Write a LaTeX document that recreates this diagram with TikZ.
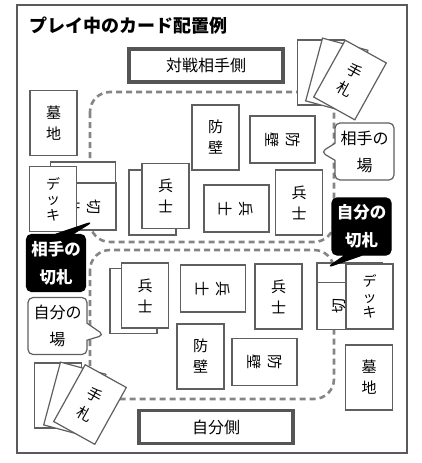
\documentclass[tikz,border=0pt]{standalone}
\usepackage{fontspec}
\setmainfont{Noto Sans CJK JP}
\usetikzlibrary{shapes.callouts}

\begin{document}
\begin{tikzpicture}[x=1pt,y=-1pt,
  card/.style={draw=cardGray, fill=white, line width=1.2pt, inner sep=0pt,
    minimum width=47, minimum height=65, align=center,
    font=\fontsize{15}{21}\selectfont},
  deckcard/.style={card, font=\fontsize{14}{15.5}\selectfont},
  sidebox/.style={draw=boxGray, fill=white, line width=3.6pt, inner sep=0pt,
    minimum width=154, minimum height=33, font=\fontsize{16}{18}\selectfont},
  zone/.style={draw=zoneGray, line width=2.6pt, dash pattern=on 6pt off 4pt,
    rounded corners=20},
  bubble/.style={rectangle callout, rounded corners=5pt, line width=1.2pt,
    inner sep=0pt, minimum width=59, minimum height=57, align=center,
    callout pointer width=17pt},
  whitebubble/.style={bubble, draw=cardGray, fill=white,
    font=\fontsize{16}{27}\selectfont},
  blackbubble/.style={bubble, draw=black, fill=black, text=white,
    font=\bfseries\fontsize{16.5}{28}\selectfont}]

% Colori
\definecolor{cardGray}{HTML}{5F5F5F}
\definecolor{boxGray}{HTML}{555555}
\definecolor{zoneGray}{HTML}{858585}
\definecolor{frameGray}{HTML}{5A5A5A}

\useasboundingbox (0,0) rectangle (421,463);

% Cornice e titolo
\draw[frameGray, line width=1.6pt] (17,5) rectangle (407,453);
\node[anchor=west, font=\bfseries\fontsize{18}{20}\selectfont] (title) at (26,26) {プレイ中のカード配置例};

% Zone tratteggiate
\draw[zone] (90,92) rectangle (334,242);
\draw[zone] (90,250) rectangle (334,399);

% Lati
\node[sidebox] (oppSide) at (206,65.5) {対戦相手側};
\node[sidebox] (mySide) at (216,427) {自分側};

% Carte avversario
\node[card] (oppGrave) at (53.5,123) {墓\\地};
\node[card, rotate=-90] (oppTrumpA) at (83,185.5) {};
\node[card, rotate=-90] (oppTrumpB) at (83.5,206.5) {切\\札};
\node[deckcard] (oppDeck) at (53,199) {デ\\ッ\\キ};
\node[card] (oppWallA) at (215.5,137.5) {防\\壁};
\node[card, rotate=-90] (oppWallB) at (282.5,139.5) {防\\壁};
\node[card] (oppSoldierBack) at (152.5,202.5) {};
\node[card] (oppSoldierA) at (165.5,196) {兵\\士};
\node[card, rotate=-90] (oppSoldierB) at (236.5,208.5) {兵\\士};
\node[card] (oppSoldierC) at (299,202.5) {兵\\士};

% Mano avversario
\node[card] (oppHandA) at (321,72.5) {};
\node[card, rotate=-15] (oppHandB) at (336.8,75.6) {};
\node[card, rotate=-29] (oppHandC) at (350,80) {手\\札};

% Carte proprie
\node[card] (mySoldierBack) at (133.5,301) {};
\node[card] (mySoldierA) at (145,295.5) {兵\\士};
\node[card, rotate=-90] (mySoldierB) at (213,288.5) {兵\\士};
\node[card] (mySoldierC) at (278.5,296.5) {兵\\士};
\node[card] (myWallA) at (200.5,356.5) {防\\壁};
\node[card, rotate=-90] (myWallB) at (264.5,362) {防\\壁};
\node[card, rotate=90] (myTrumpA) at (349.5,286.5) {};
\node[card, rotate=90] (myTrumpB) at (349.5,306) {切\\札};
\node[deckcard] (myDeck) at (369.5,296.5) {デ\\ッ\\キ};
\node[card] (myGrave) at (369,377.5) {墓\\地};

% Mano propria
\node[card] (myHandA) at (58,395.5) {};
\node[card, rotate=-15] (myHandB) at (74.8,399.6) {};
\node[card, rotate=-29] (myHandC) at (90,404.5) {手\\札};

% Fumetti
\node[whitebubble, callout absolute pointer={(321,152)}] (oppField) at (364.5,151.5) {相手の\\場};
\node[blackbubble, callout absolute pointer={(92,222)}] (oppTrumpNote) at (56,263) {相手の\\切札};
\node[blackbubble, callout absolute pointer={(328,267)}] (myTrumpNote) at (361.5,226.5) {自分の\\切札};
\node[whitebubble, callout absolute pointer={(104,335)}] (myField) at (57.5,326) {自分の\\場};

\end{tikzpicture}
\end{document}
